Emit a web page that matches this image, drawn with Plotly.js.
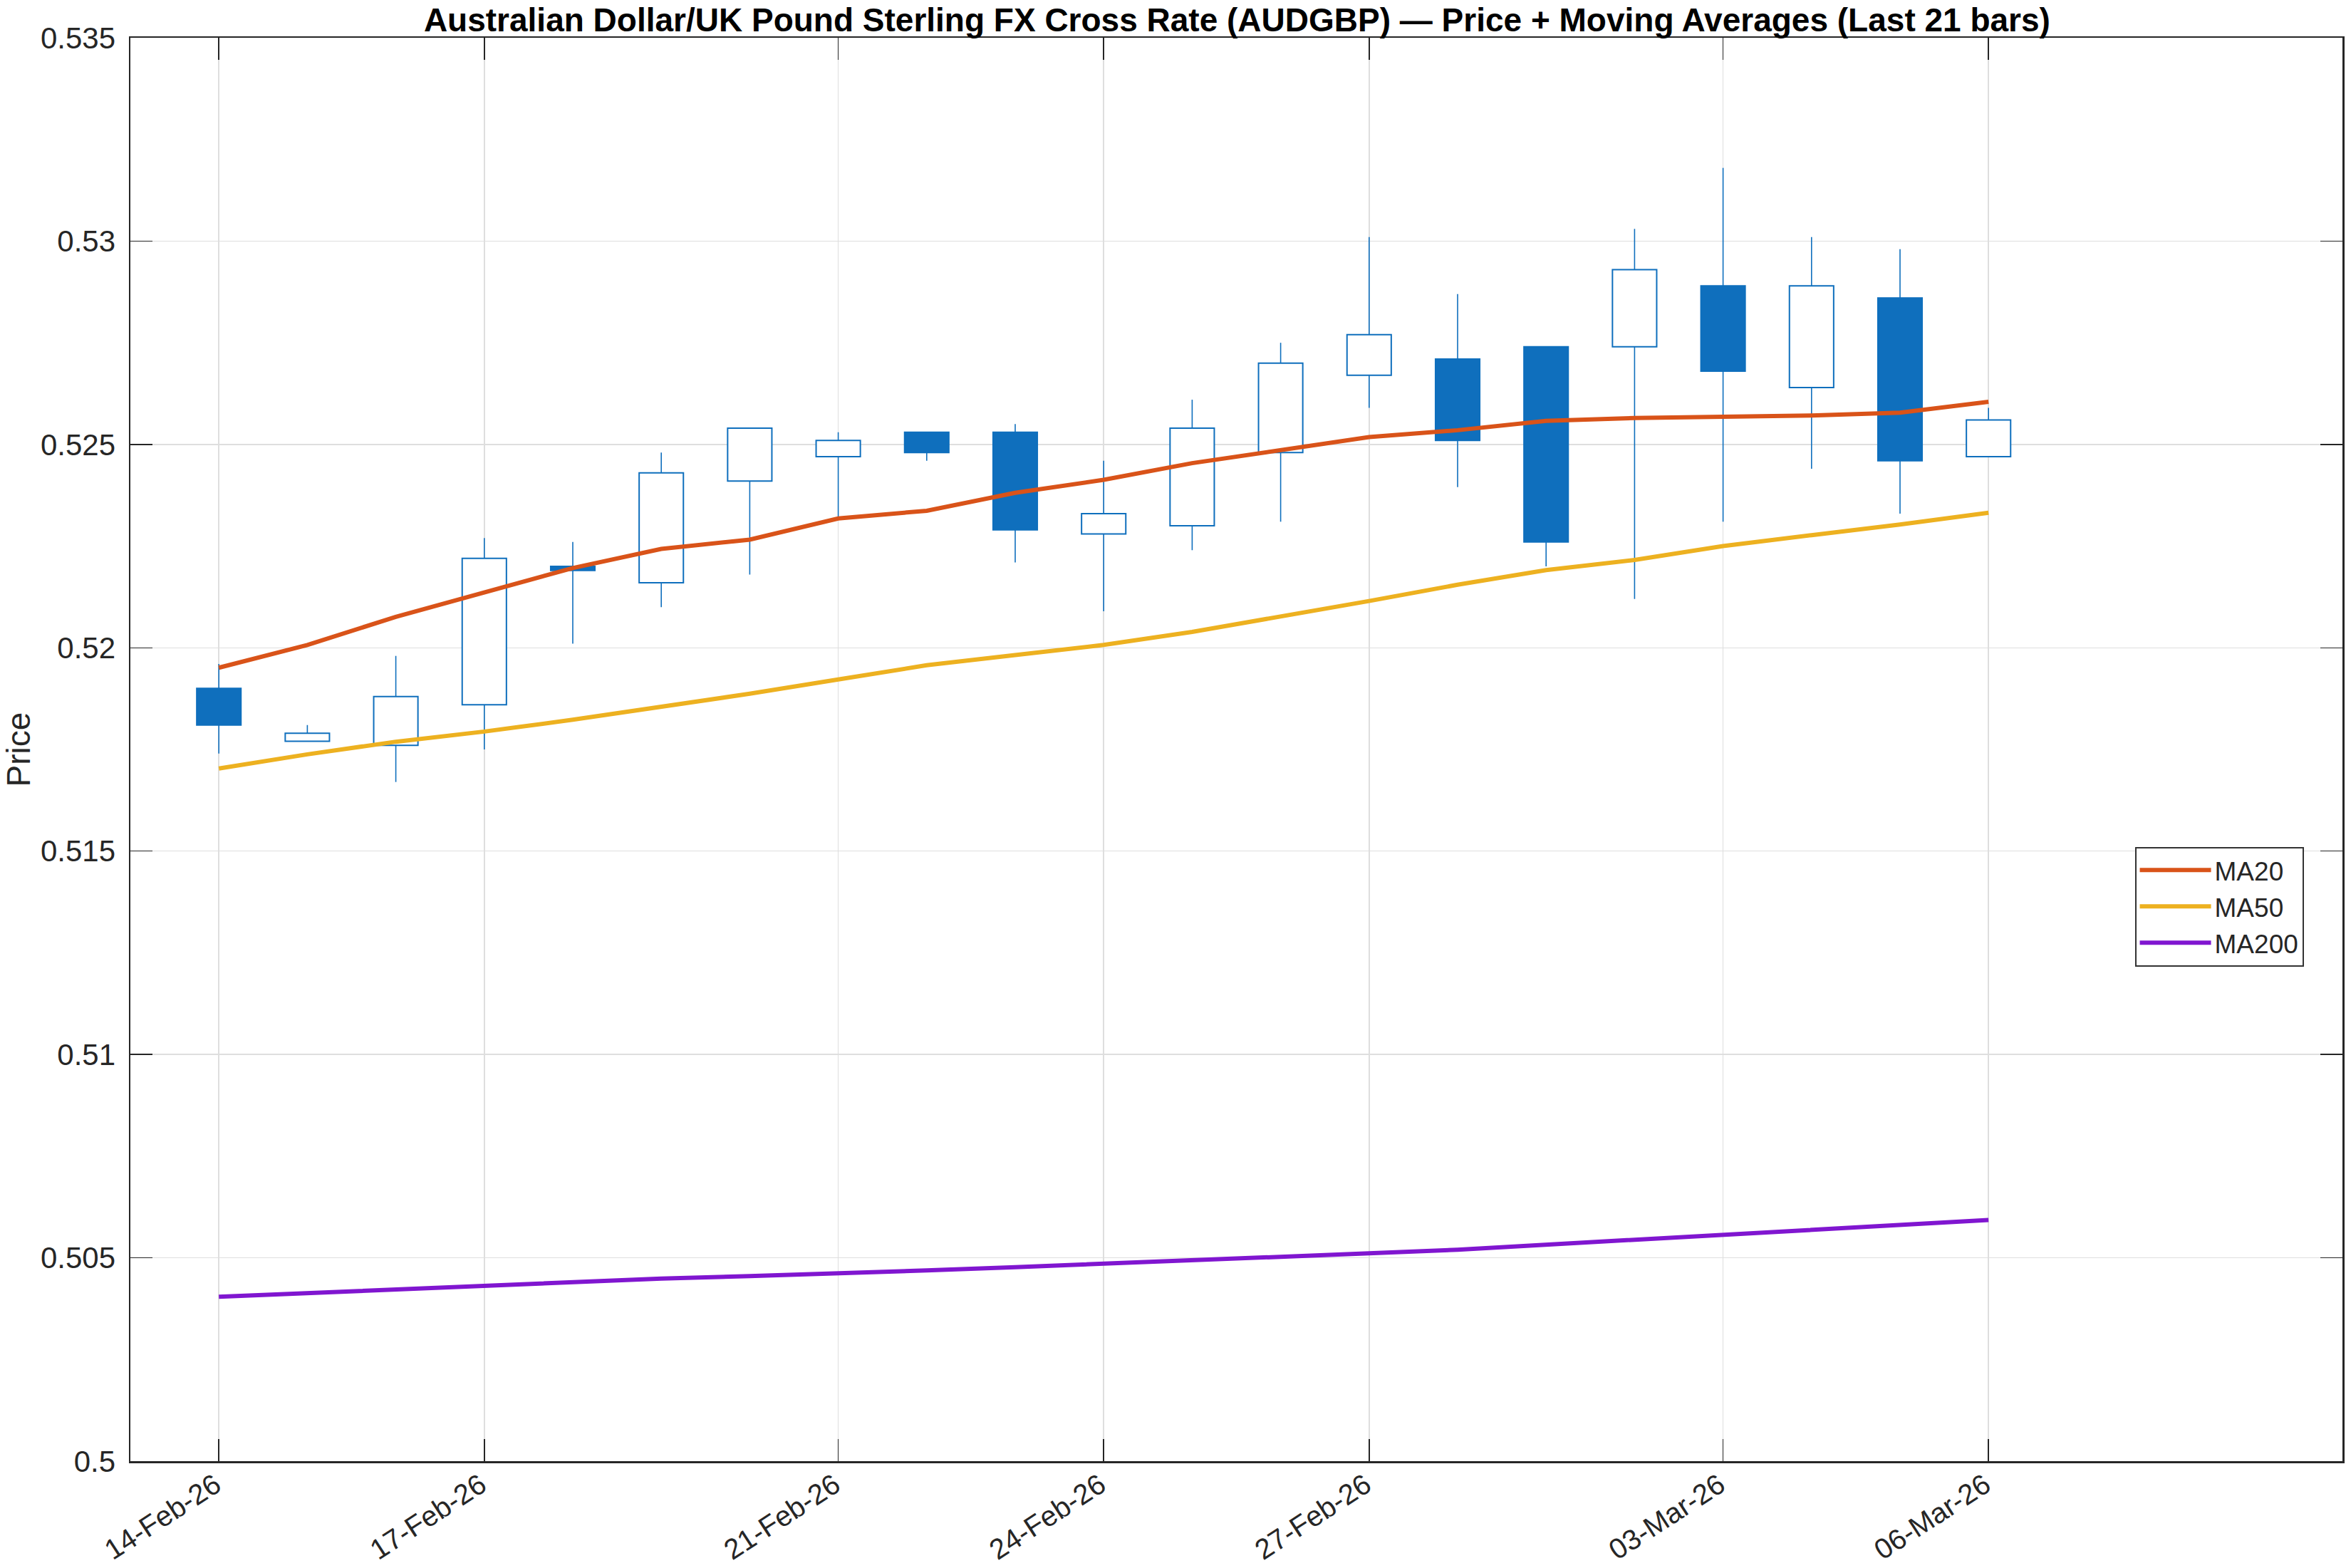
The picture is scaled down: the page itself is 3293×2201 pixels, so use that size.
<!DOCTYPE html>
<html>
<head>
<meta charset="utf-8">
<script src="https://cdn.plot.ly/plotly-3.0.1.min.js"></script>
<style>
  html, body { margin: 0; padding: 0; background: #ffffff; }
  #chart { width: 3293px; height: 2201px; }
</style>
</head>
<body>
<div id="chart"></div>
<script>
// ---- Data ----
const dates = ["14-Feb-26","15-Feb-26","16-Feb-26","17-Feb-26","18-Feb-26","19-Feb-26","20-Feb-26",
               "21-Feb-26","22-Feb-26","23-Feb-26","24-Feb-26","25-Feb-26","26-Feb-26","27-Feb-26",
               "28-Feb-26","01-Mar-26","02-Mar-26","03-Mar-26","04-Mar-26","05-Mar-26","06-Mar-26"];

const openP  = [0.5190,0.5177,0.5176,0.5186,0.5220,0.5216,0.5241,0.5247,0.5253,0.5253,0.5228,
                0.5230,0.5248,0.5267,0.5271,0.5274,0.5274,0.5289,0.5264,0.5286,0.5247];
const highP  = [0.5196,0.5181,0.5198,0.5227,0.5226,0.5248,0.5254,0.5253,0.5253,0.5255,0.5246,
                0.5261,0.5275,0.5301,0.5287,0.5274,0.5303,0.5318,0.5301,0.5298,0.5259];
const lowP   = [0.5174,0.5177,0.5167,0.5175,0.5201,0.5210,0.5218,0.5232,0.5246,0.5221,0.5209,
                0.5224,0.5231,0.5259,0.52395,0.5220,0.5212,0.5231,0.5244,0.5233,0.5247];
const closeP = [0.5181,0.5179,0.5188,0.5222,0.5219,0.5243,0.5254,0.5251,0.5248,0.5229,0.5233,
                0.5254,0.5270,0.5277,0.5251,0.5226,0.5293,0.5268,0.5289,0.5246,0.5256];

const ma20  = [0.51951,0.52007,0.52076,0.52135,0.52196,0.52243,0.52266,0.52318,0.52337,0.52381,0.52413,
               0.52454,0.52487,0.52518,0.52535,0.52558,0.52565,0.52567,0.52571,0.52578,0.52605];
const ma50  = [0.51703,0.51738,0.51769,0.51794,0.51823,0.51855,0.51887,0.51922,0.51957,0.51982,0.52007,
               0.52039,0.52076,0.52115,0.52155,0.52191,0.52216,0.52250,0.52277,0.52303,0.52332];
const ma200 = [0.50404,0.50413,0.50423,0.50433,0.50442,0.50449,0.50455,0.50461,0.50469,0.50477,0.50485,
               0.50493,0.50502,0.50511,0.50520,0.50532,0.50544,0.50556,0.50568,0.50581,0.50593];

const xTickLabels = ["14-Feb-26","17-Feb-26","21-Feb-26","24-Feb-26","27-Feb-26","03-Mar-26","06-Mar-26"];
const yTickVals   = [0.5,0.505,0.51,0.515,0.52,0.525,0.53,0.535];
const yTickText   = ["0.5","0.505","0.51","0.515","0.52","0.525","0.53","0.535"];

const titleText = "Australian Dollar/UK Pound Sterling FX Cross Rate (AUDGBP) \u2014 Price + Moving Averages (Last 21 bars)";

// ---- Styles ----
const candleBlue = "#0F6FBD";
const fontFam = "Liberation Sans, Arial, Helvetica, sans-serif";
const axisCol = "#262626";

// ---- Build candle traces from data ----
const bodyBase = openP.map((o,i) => Math.min(o, closeP[i]));
const bodyTop  = openP.map((o,i) => Math.max(o, closeP[i]));
const bodyH    = bodyTop.map((t,i) => Math.max(t - bodyBase[i], 0.000015));
const bodyFill = openP.map((o,i) => closeP[i] < o ? candleBlue : "#ffffff");

const wickX = [], wickY = [];
dates.forEach((d,i) => {
  if (highP[i] > bodyTop[i]) { wickX.push(d, d, null); wickY.push(highP[i], bodyTop[i], null); }
  if (lowP[i] < bodyBase[i]) { wickX.push(d, d, null); wickY.push(bodyBase[i], lowP[i], null); }
});

const traces = [
  {
    type: "bar", x: dates, y: bodyH, base: bodyBase, width: 0.5,
    marker: { color: bodyFill, line: { color: candleBlue, width: 2 } },
    showlegend: false, hoverinfo: "skip"
  },
  {
    type: "scatter", mode: "lines", x: wickX, y: wickY, connectgaps: false,
    line: { color: candleBlue, width: 1.6 }, showlegend: false, hoverinfo: "skip"
  },
  { type: "scatter", mode: "lines", name: "MA20",  x: dates, y: ma20,  line: { color: "#D95319", width: 6 } },
  { type: "scatter", mode: "lines", name: "MA50",  x: dates, y: ma50,  line: { color: "#EDB120", width: 6 } },
  { type: "scatter", mode: "lines", name: "MA200", x: dates, y: ma200, line: { color: "#8016D0", width: 6 } }
];

const layout = {
  width: 3293, height: 2201,
  paper_bgcolor: "#ffffff", plot_bgcolor: "#ffffff",
  margin: { l: 183, r: 5, t: 53, b: 150, pad: 0 },
  font: { family: fontFam, color: axisCol, size: 42 },
  title: {
    text: "<b>" + titleText + "</b>",
    font: { family: fontFam, size: 46, color: "#000000" },
    x: 0.5273, xanchor: "center", xref: "container",
    y: 0.9873, yanchor: "middle", yref: "container"
  },
  bargap: 0,
  xaxis: {
    type: "category", categoryorder: "array", categoryarray: dates,
    range: [-1, 24], autorange: false,
    tickmode: "array", tickvals: xTickLabels, ticktext: xTickLabels,
    tickangle: -33, tickfont: { family: fontFam, size: 40, color: axisCol },
    ticks: "inside", ticklen: 31, tickwidth: 1.5, tickcolor: axisCol,
    showline: true, linewidth: 2.5, linecolor: axisCol, mirror: "ticks",
    showgrid: true, gridcolor: "#dedede", gridwidth: 1.5,
    zeroline: false, automargin: false, ticklabelstandoff: -8, ticklabelshift: -5
  },
  yaxis: {
    range: [0.5, 0.535], autorange: false,
    tickmode: "array", tickvals: yTickVals, ticktext: yTickText,
    tickfont: { family: fontFam, size: 42, color: axisCol },
    ticks: "inside", ticklen: 31, tickwidth: 1.5, tickcolor: axisCol,
    showline: true, linewidth: 2.5, linecolor: axisCol, mirror: "ticks",
    showgrid: true, gridcolor: "#dedede", gridwidth: 1.5,
    zeroline: false, automargin: false, ticklabelstandoff: 10,
    title: { text: "Price", font: { family: fontFam, size: 46, color: axisCol }, standoff: 14 }
  },
  legend: {
    x: 0.9443, xanchor: "center", xref: "paper",
    y: 0.3896, yanchor: "middle", yref: "paper",
    bgcolor: "#ffffff", bordercolor: "#333333", borderwidth: 2,
    font: { family: fontFam, size: 37, color: axisCol },
    itemwidth: 100, tracegroupgap: 0
  },
  showlegend: true
};

Plotly.newPlot("chart", traces, layout, { staticPlot: true, displayModeBar: false });
</script>
</body>
</html>
